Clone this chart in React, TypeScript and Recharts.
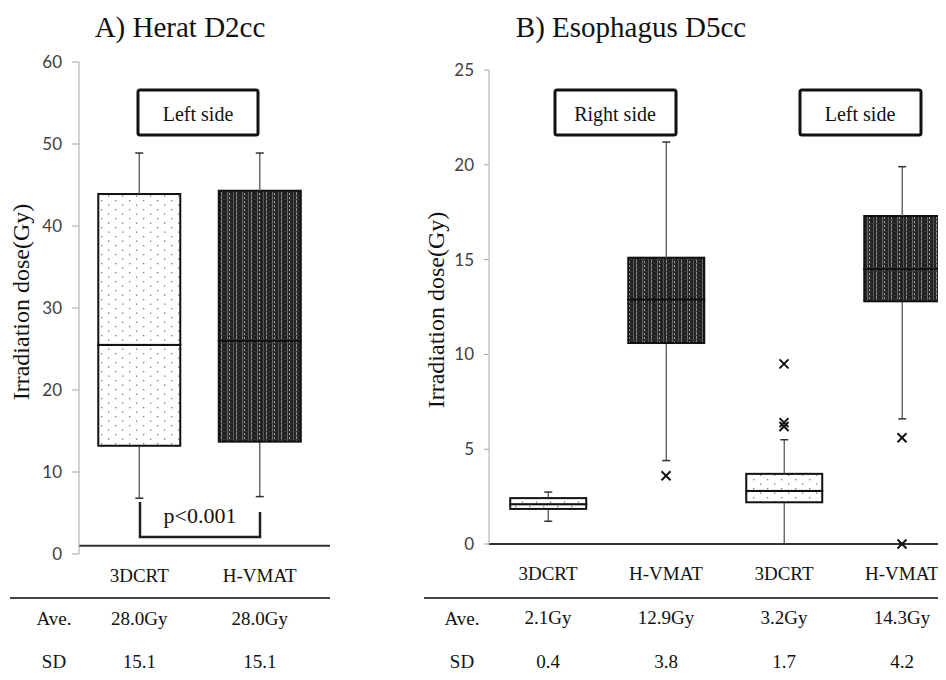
import React from 'react';
import { Bar, ComposedChart, ReferenceLine, Scatter, XAxis, YAxis } from 'recharts';

// A) Heart D2cc (left side)
const heartKeys = ['3DCRT', 'H-VMAT'];
const heartMethods = ['3DCRT', 'H-VMAT'];
const heartMin = [6.8, 7.0];
const heartQ1 = [13.2, 13.7];
const heartMedian = [25.5, 26.0];
const heartQ3 = [43.9, 44.3];
const heartMax = [48.9, 48.9];
const heartAve = ['28.0Gy', '28.0Gy'];
const heartSd = ['15.1', '15.1'];
const heartTicks = [0, 10, 20, 30, 40, 50, 60];
const heartBaseline = 1; // the drawn axis line sits a little above 0 in the source

// B) Esophagus D5cc (right side, then left side)
const esoKeys = ['R-3DCRT', 'R-H-VMAT', 'L-3DCRT', 'L-H-VMAT'];
const esoMethods = ['3DCRT', 'H-VMAT', '3DCRT', 'H-VMAT'];
const esoMin = [1.2, 4.4, 0, 6.6];
const esoQ1 = [1.85, 10.6, 2.2, 12.8];
const esoMedian = [2.1, 12.9, 2.8, 14.5];
const esoQ3 = [2.42, 15.1, 3.7, 17.3];
const esoMax = [2.74, 21.2, 5.5, 19.9];
const esoOutliers = [[], [3.6], [9.5, 6.4, 6.2], [5.6, 0]];
const esoAve = ['2.1Gy', '12.9Gy', '3.2Gy', '14.3Gy'];
const esoSd = ['0.4', '3.8', '1.7', '4.2'];
const esoTicks = [0, 5, 10, 15, 20, 25];

const SERIF = '"Liberation Serif", "Times New Roman", serif';
const SANS = 'Lato, "Liberation Sans", sans-serif';

const buildRows = (
  keys: string[], methods: string[], min: number[], q1: number[],
  med: number[], q3: number[], max: number[], outliers: number[][] = []
) =>
  keys.map((key, i) => ({
    key,
    method: methods[i],
    base: min[i],
    lowWhisker: q1[i] - min[i],
    lowBox: med[i] - q1[i],
    highBox: q3[i] - med[i],
    highWhisker: max[i] - q3[i],
    out1: outliers[i]?.[0],
    out2: outliers[i]?.[1],
    out3: outliers[i]?.[2],
  }));

const heartRows = buildRows(heartKeys, heartMethods, heartMin, heartQ1, heartMedian, heartQ3, heartMax);
const esoRows = buildRows(esoKeys, esoMethods, esoMin, esoQ1, esoMedian, esoQ3, esoMax, esoOutliers);

const whisker = (cap: 'top' | 'bottom') => (p: any) => {
  const { x, y, width, height } = p;
  if (![x, y, width, height].every(Number.isFinite)) return <g />;
  const cx = x + width / 2;
  const cy = cap === 'top' ? y : y + height;
  return (
    <g>
      <line x1={cx} x2={cx} y1={y} y2={y + height} stroke="#555" strokeWidth={1.3} />
      <line x1={cx - 4} x2={cx + 4} y1={cy} y2={cy} stroke="#333" strokeWidth={1.5} />
    </g>
  );
};

const boxPart = (p: any) => {
  const { x, y, width, height, payload } = p;
  if (![x, y, width, height].every(Number.isFinite)) return <g />;
  const fill = payload.method === '3DCRT' ? 'url(#dotFill)' : 'url(#darkFill)';
  return <rect x={x} y={y} width={width} height={height} fill={fill} stroke="#111" strokeWidth={2} />;
};

const cross = (p: any) => {
  const { cx, cy } = p;
  if (!Number.isFinite(cx) || !Number.isFinite(cy)) return <g />;
  const s = 4.5;
  return (
    <g stroke="#111" strokeWidth={2}>
      <line x1={cx - s} y1={cy - s} x2={cx + s} y2={cy + s} />
      <line x1={cx - s} y1={cy + s} x2={cx + s} y2={cy - s} />
    </g>
  );
};

const TableTick = (props: any) => {
  const { x, y, payload, keys, methods, aves, sds, dy } = props;
  const i = keys.indexOf(payload.value);
  return (
    <g fontFamily={SERIF} fontSize={19} fill="#111" textAnchor="middle">
      <text x={x} y={y + dy[0]}>{methods[i]}</text>
      <text x={x} y={y + dy[1]}>{aves[i]}</text>
      <text x={x} y={y + dy[2]}>{sds[i]}</text>
    </g>
  );
};

const yTick = { fontFamily: SANS, fontSize: 17, fill: '#404040' };

const boxBars = [
  <Bar key="b0" dataKey="base" stackId="box" fill="transparent" isAnimationActive={false} />,
  <Bar key="b1" dataKey="lowWhisker" stackId="box" shape={whisker('bottom')} isAnimationActive={false} />,
  <Bar key="b2" dataKey="lowBox" stackId="box" shape={boxPart} isAnimationActive={false} />,
  <Bar key="b3" dataKey="highBox" stackId="box" shape={boxPart} isAnimationActive={false} />,
  <Bar key="b4" dataKey="highWhisker" stackId="box" shape={whisker('top')} isAnimationActive={false} />,
];

export default function App() {
  return (
    <div style={{ position: 'relative', width: 946, height: 680, margin: -8, overflow: 'hidden', background: '#fff' }}>
      <div style={{ position: 'absolute', left: 0, top: 0 }}>
        <ComposedChart
          width={340}
          height={680}
          data={heartRows}
          margin={{ top: 62, right: 10, bottom: 96, left: 19 }}
          barCategoryGap="16%"
        >
          <XAxis
            dataKey="key"
            axisLine={false}
            tickLine={false}
            tickSize={0}
            tickMargin={0}
            interval={0}
            padding={{ left: 0, right: 10 }}
            tick={<TableTick keys={heartKeys} methods={heartMethods} aves={heartAve} sds={heartSd} dy={[28, 71, 114]} />}
          />
          <YAxis
            type="number"
            domain={[0, 60]}
            ticks={heartTicks}
            width={60}
            axisLine={{ stroke: '#a6a6a6' }}
            tickLine={{ stroke: '#a6a6a6' }}
            tickSize={7}
            tickMargin={10}
            tick={yTick}
          />
          <ReferenceLine y={heartBaseline} stroke="#333" strokeWidth={2} />
          {boxBars}
        </ComposedChart>
      </div>

      <div style={{ position: 'absolute', left: 400, top: 0 }}>
        <ComposedChart
          width={561}
          height={680}
          data={esoRows}
          margin={{ top: 70, right: 0, bottom: 106, left: 29 }}
          barCategoryGap="18%"
        >
          <XAxis
            dataKey="key"
            axisLine={false}
            tickLine={false}
            tickSize={0}
            tickMargin={0}
            interval={0}
            tick={<TableTick keys={esoKeys} methods={esoMethods} aves={esoAve} sds={esoSd} dy={[36, 80, 124]} />}
          />
          <YAxis
            type="number"
            domain={[0, 25]}
            ticks={esoTicks}
            width={60}
            axisLine={{ stroke: '#a6a6a6' }}
            tickLine={{ stroke: '#a6a6a6' }}
            tickSize={5}
            tickMargin={10}
            tick={yTick}
          />
          <ReferenceLine y={0} stroke="#333" strokeWidth={2} />
          {boxBars}
          <Scatter dataKey="out1" shape={cross} isAnimationActive={false} />
          <Scatter dataKey="out2" shape={cross} isAnimationActive={false} />
          <Scatter dataKey="out3" shape={cross} isAnimationActive={false} />
        </ComposedChart>
      </div>

      <svg width={946} height={680} style={{ position: 'absolute', left: 0, top: 0, pointerEvents: 'none' }} fontFamily={SERIF} fill="#111">
        <defs>
          <pattern id="dotFill" width={14} height={9} patternUnits="userSpaceOnUse">
            <rect width={14} height={9} fill="#fff" />
            <rect x={3} y={2} width={1.3} height={1.3} fill="#777" />
            <rect x={10} y={6.5} width={1.3} height={1.3} fill="#777" />
          </pattern>
          <pattern id="darkFill" width={15} height={4} patternUnits="userSpaceOnUse">
            <rect width={15} height={4} fill="#222" />
            <rect x={2} y={0} width={1} height={4} fill="#6e6e6e" />
            <rect x={4} y={1} width={1} height={2} fill="#a8a8a8" />
            <rect x={8} y={0} width={1} height={4} fill="#5a5a5a" />
            <rect x={11} y={0} width={1} height={3} fill="#909090" />
            <rect x={0} y={3} width={15} height={0.7} fill="#3a3a3a" />
          </pattern>
        </defs>

        <text x={180} y={37} fontSize={29} textAnchor="middle">A) Herat D2cc</text>
        <text x={631} y={37} fontSize={29} textAnchor="middle">B) Esophagus D5cc</text>

        <text transform="translate(29,302) rotate(-90)" fontSize={24} textAnchor="middle">Irradiation dose(Gy)</text>
        <text transform="translate(444,310) rotate(-90)" fontSize={24} textAnchor="middle">Irradiation dose(Gy)</text>

        <g fill="none" stroke="#111" strokeWidth={3}>
          <rect x={138} y={90} width={120} height={45} rx={2} />
          <rect x={555} y={90} width={121} height={45} rx={2} />
          <rect x={800} y={90} width={121} height={45} rx={2} />
        </g>
        <g fontSize={20} textAnchor="middle">
          <text x={198} y={121}>Left side</text>
          <text x={615} y={121}>Right side</text>
          <text x={860} y={121}>Left side</text>
        </g>

        <path d="M140,502 V537 H260 V512" fill="none" stroke="#222" strokeWidth={2.5} />
        <text x={200} y={523} fontSize={22} textAnchor="middle">p&lt;0.001</text>

        <line x1={10} x2={330} y1={598} y2={598} stroke="#444" strokeWidth={2} />
        <line x1={424} x2={946} y1={598} y2={598} stroke="#444" strokeWidth={2} />
        <g fontSize={19} textAnchor="middle">
          <text x={54} y={625}>Ave.</text>
          <text x={54} y={668}>SD</text>
          <text x={462} y={625}>Ave.</text>
          <text x={462} y={668}>SD</text>
        </g>
      </svg>
    </div>
  );
}
